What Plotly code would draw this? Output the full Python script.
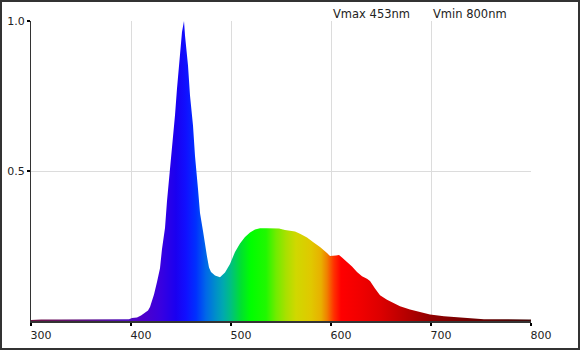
import plotly.graph_objects as go

# ---- data ----
wavelength_nm = [300, 310, 330, 350, 370, 390, 398, 401, 406, 410, 414, 417, 419, 421, 423,
                 426, 429, 431, 434, 436, 439, 441, 444, 446, 448, 451, 453, 454, 457, 459,
                 462, 464, 467, 469, 472, 474, 476, 478, 480, 484, 489, 494, 499, 504, 509,
                 514, 519, 524, 529, 536, 548, 554, 564, 569, 576, 583, 589, 596, 599, 605,
                 608, 611, 616, 621, 626, 631, 636, 639, 644, 649, 656, 663, 669, 679, 689,
                 699, 713, 729, 753, 798, 800]
intensity = [0.003, 0.005, 0.005, 0.005, 0.005, 0.005, 0.006, 0.010, 0.012, 0.018, 0.027, 0.035,
             0.047, 0.065, 0.088, 0.130, 0.176, 0.240, 0.310, 0.400, 0.500, 0.590, 0.686, 0.775,
             0.863, 0.963, 1.000, 0.952, 0.852, 0.752, 0.652, 0.550, 0.440, 0.360, 0.300, 0.252,
             0.215, 0.178, 0.163, 0.152, 0.146, 0.162, 0.190, 0.230, 0.258, 0.280, 0.295, 0.305,
             0.309, 0.309, 0.308, 0.303, 0.298, 0.291, 0.278, 0.261, 0.247, 0.227, 0.217, 0.218,
             0.220, 0.212, 0.198, 0.182, 0.163, 0.149, 0.141, 0.133, 0.108, 0.086, 0.071, 0.060,
             0.049, 0.038, 0.029, 0.022, 0.016, 0.011, 0.006, 0.005, 0.005]

x_tick_vals = [300, 400, 500, 600, 700, 800]
x_tick_text = ["300", "400", "500", "600", "700", "800"]
y_tick_vals = [0.5, 1.0]
y_tick_text = ["0.5", "1.0"]
header_labels = ["Vmax 453nm", "Vmin 800nm"]
header_anchor_nm = [600, 700]

# ---- spectrum colour styling ----
grad_nm = [300, 350, 395, 410, 430, 445, 455, 465, 475, 485, 492, 500, 510, 520, 535, 545,
           555, 565, 580, 590, 596, 603, 610, 630, 650, 700, 750, 800]
grad_colors = ["#701040", "#601080", "#5010c0", "#5000c8", "#3800e0", "#1a00f0", "#1010ff",
               "#0030ff", "#0068e8", "#0090c8", "#00a8b0", "#00c080", "#00e030", "#00ff00",
               "#20f800", "#70ec00", "#a8e000", "#d0d800", "#e0c800", "#e8b000", "#f08000",
               "#ff3000", "#ff0000", "#f00000", "#dc0000", "#900000", "#6a0000", "#400808"]
colorscale = [[(n - 300) / 500, c] for n, c in zip(grad_nm, grad_colors)]

fig = go.Figure()
fig.add_trace(go.Scatter(
    x=wavelength_nm, y=intensity, mode="lines", fill="tozeroy",
    line=dict(width=0, color="rgba(0,0,0,0)"),
    fillgradient=dict(type="horizontal", colorscale=colorscale, start=300, stop=800),
    hoverinfo="skip", showlegend=False,
))

L, R, T, B = 31, 49, 21, 29
W, H = 580, 350
pw, ph = W - L - R, H - T - B

annotations = [dict(text=t, xref="x", yref="paper", x=nm, y=1 + (T - 13.5) / ph,
                    xanchor="left", yanchor="middle", showarrow=False,
                    font=dict(family="DejaVu Sans", size=11.5, color="#222"))
               for t, nm in zip(header_labels, header_anchor_nm)]

fig.update_layout(
    width=W, height=H,
    margin=dict(l=L, r=R, t=T, b=B, pad=0, autoexpand=False),
    paper_bgcolor="white", plot_bgcolor="white",
    font=dict(family="DejaVu Sans", size=11, color="#222"),
    xaxis=dict(range=[300, 800], tickvals=x_tick_vals, ticktext=x_tick_text,
               showgrid=True, gridcolor="#dcdcdc", gridwidth=1,
               showline=True, linecolor="#333", linewidth=2,
               ticks="outside", ticklen=3, tickwidth=2, tickcolor="#000",
               ticklabelshift=10, zeroline=False, fixedrange=True, automargin=False),
    yaxis=dict(range=[0, 1], tickvals=y_tick_vals, ticktext=y_tick_text,
               showgrid=True, gridcolor="#dcdcdc", gridwidth=1,
               showline=True, linecolor="#333", linewidth=1,
               ticks="outside", ticklen=3, tickwidth=2, tickcolor="#000",
               zeroline=False, fixedrange=True, automargin=False),
    annotations=annotations,
    shapes=[dict(type="rect", xref="paper", yref="paper",
                 x0=(1 - L) / pw, x1=(W - 1 - L) / pw,
                 y0=-(B - 1) / ph, y1=1 + (T - 1) / ph,
                 line=dict(color="#333", width=2), fillcolor="rgba(0,0,0,0)")],
)

fig.write_html("out.html")
